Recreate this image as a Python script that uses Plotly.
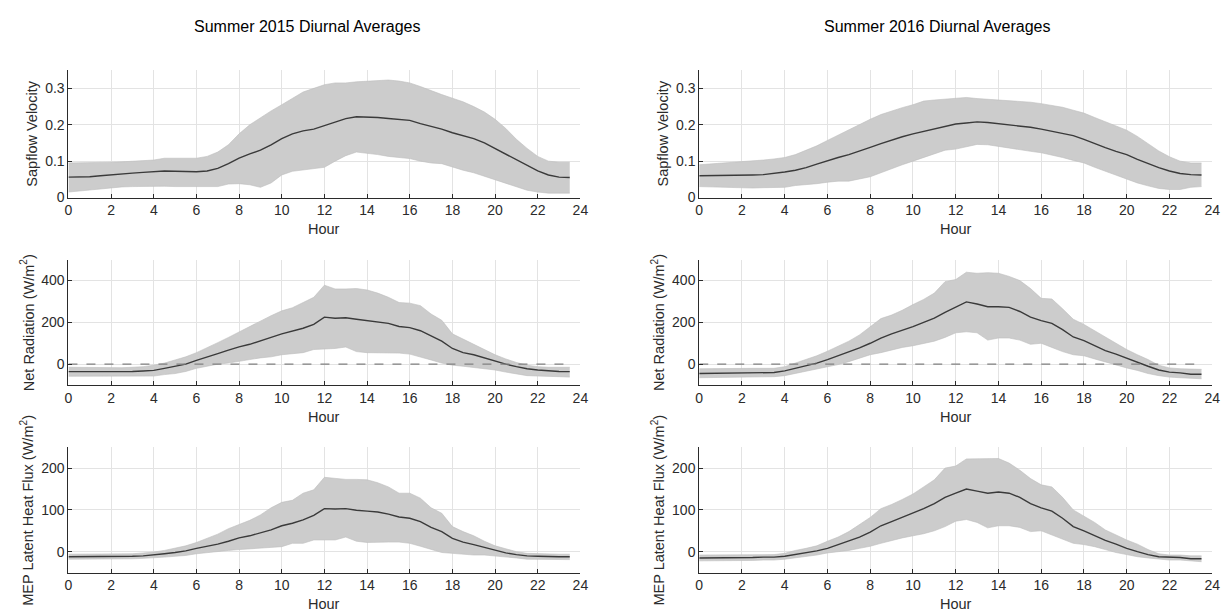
import plotly.graph_objects as go

hours = [0, 0.5, 1, 1.5, 2, 2.5, 3, 3.5, 4, 4.5, 5, 5.5, 6, 6.5, 7, 7.5, 8, 8.5, 9, 9.5,
         10, 10.5, 11, 11.5, 12, 12.5, 13, 13.5, 14, 14.5, 15, 15.5, 16, 16.5, 17, 17.5,
         18, 18.5, 19, 19.5, 20, 20.5, 21, 21.5, 22, 22.5, 23, 23.5]

column_titles = ["Summer 2015 Diurnal Averages", "Summer 2016 Diurnal Averages"]
row_labels = ["Sapflow Velocity", "Net Radiation (W/m<sup>2</sup>)",
              "MEP Latent Heat Flux (W/m<sup>2</sup>)"]
x_ticks = [0, 2, 4, 6, 8, 10, 12, 14, 16, 18, 20, 22, 24]
y_ticks = [[0, 0.1, 0.2, 0.3], [0, 200, 400], [0, 100, 200]]
y_ranges = [[0, 0.35], [-100, 500], [-50, 250]]

# --- 2015 Sapflow
sap15_mean = [0.056, 0.056, 0.057, 0.060, 0.063, 0.065, 0.067, 0.069, 0.071, 0.073, 0.072, 0.071,
              0.071, 0.073, 0.080, 0.093, 0.108, 0.120, 0.130, 0.145, 0.162, 0.175, 0.183, 0.188,
              0.197, 0.207, 0.217, 0.222, 0.222, 0.220, 0.217, 0.215, 0.212, 0.203, 0.196, 0.188,
              0.178, 0.170, 0.162, 0.150, 0.135, 0.120, 0.103, 0.088, 0.073, 0.062, 0.056, 0.055]
sap15_upper = [0.095, 0.095, 0.095, 0.096, 0.097, 0.098, 0.100, 0.101, 0.103, 0.108, 0.108, 0.108,
               0.108, 0.113, 0.125, 0.145, 0.175, 0.200, 0.220, 0.238, 0.255, 0.272, 0.290, 0.300,
               0.310, 0.315, 0.315, 0.318, 0.320, 0.323, 0.323, 0.320, 0.315, 0.305, 0.293, 0.283,
               0.273, 0.263, 0.250, 0.235, 0.215, 0.190, 0.160, 0.135, 0.113, 0.100, 0.097, 0.097]
sap15_lower = [0.015, 0.018, 0.020, 0.024, 0.028, 0.029, 0.030, 0.031, 0.032, 0.031, 0.030, 0.030,
               0.030, 0.030, 0.030, 0.037, 0.038, 0.035, 0.028, 0.040, 0.062, 0.072, 0.075, 0.078,
               0.083, 0.100, 0.115, 0.125, 0.122, 0.118, 0.113, 0.110, 0.107, 0.100, 0.095, 0.093,
               0.083, 0.075, 0.068, 0.058, 0.048, 0.038, 0.028, 0.020, 0.015, 0.012, 0.012, 0.012]

# --- 2016 Sapflow
sap16_mean = [0.060, 0.060, 0.060, 0.060, 0.061, 0.062, 0.063, 0.066, 0.070, 0.075, 0.082, 0.092,
              0.102, 0.110, 0.118, 0.127, 0.138, 0.148, 0.158, 0.167, 0.175, 0.182, 0.190, 0.197,
              0.202, 0.205, 0.208, 0.206, 0.203, 0.200, 0.196, 0.193, 0.188, 0.182, 0.176, 0.170,
              0.160, 0.148, 0.137, 0.127, 0.118, 0.105, 0.093, 0.082, 0.073, 0.066, 0.063, 0.062]
sap16_upper = [0.090, 0.092, 0.095, 0.098, 0.100, 0.101, 0.103, 0.106, 0.110, 0.118, 0.130, 0.142,
               0.157, 0.172, 0.187, 0.200, 0.215, 0.228, 0.238, 0.247, 0.255, 0.265, 0.268, 0.270,
               0.273, 0.275, 0.272, 0.270, 0.270, 0.268, 0.265, 0.262, 0.258, 0.253, 0.248, 0.240,
               0.232, 0.220, 0.208, 0.197, 0.185, 0.168, 0.148, 0.128, 0.112, 0.100, 0.095, 0.095]
sap16_lower = [0.030, 0.029, 0.027, 0.026, 0.025, 0.026, 0.027, 0.027, 0.028, 0.033, 0.035, 0.038,
               0.042, 0.045, 0.045, 0.050, 0.057, 0.068, 0.080, 0.090, 0.100, 0.110, 0.122, 0.130,
               0.133, 0.140, 0.146, 0.145, 0.140, 0.135, 0.130, 0.127, 0.123, 0.117, 0.110, 0.102,
               0.095, 0.083, 0.072, 0.060, 0.050, 0.040, 0.032, 0.025, 0.022, 0.022, 0.028, 0.030]

# --- 2015 Net Radiation
rn15_mean = [-36, -36, -36, -37, -37, -36, -35, -33, -30, -20, -10, 0, 18, 33, 50, 67, 83, 95,
             110, 128, 145, 158, 172, 190, 225, 220, 222, 215, 208, 202, 195, 180, 175, 160, 135,
             110, 75, 55, 45, 30, 12, 0, -12, -22, -28, -32, -35, -36]
rn15_upper = [-15, -16, -17, -18, -18, -17, -15, -12, -5, 5, 20, 35, 55, 78, 103, 128, 155, 178,
              205, 232, 255, 270, 295, 320, 378, 360, 360, 362, 355, 340, 320, 295, 292, 280, 240,
              210, 145, 120, 95, 70, 45, 25, 8, -5, -12, -15, -15, -15]
rn15_lower = [-58, -58, -58, -58, -58, -58, -57, -57, -57, -50, -45, -35, -20, -10, 0, 5, 15, 22,
              30, 35, 45, 50, 55, 70, 72, 75, 82, 60, 55, 55, 55, 53, 48, 35, 20, 5, -5, -10,
              -15, -20, -28, -38, -48, -55, -57, -60, -60, -62]

# --- 2016 Net Radiation
rn16_mean = [-45, -44, -43, -43, -42, -41, -40, -40, -32, -20, -8, 5, 22, 40, 58, 78, 100, 125,
             145, 162, 180, 200, 220, 248, 272, 298, 288, 275, 275, 272, 252, 225, 208, 195, 165,
             130, 113, 90, 65, 48, 28, 8, -10, -28, -38, -42, -48, -48]
rn16_upper = [-22, -21, -20, -20, -20, -20, -20, -20, -12, 5, 20, 40, 62, 85, 110, 140, 180, 218,
              235, 258, 285, 310, 340, 395, 405, 440, 435, 438, 435, 420, 400, 362, 315, 312, 265,
              215, 190, 160, 128, 100, 70, 45, 22, -5, -18, -22, -25, -25]
rn16_lower = [-65, -64, -63, -63, -62, -61, -60, -60, -55, -45, -35, -25, -12, -2, 12, 28, 45, 55,
              68, 80, 88, 98, 110, 128, 150, 155, 150, 115, 125, 125, 115, 95, 100, 80, 60, 45,
              40, 25, 10, -5, -18, -30, -45, -55, -62, -65, -68, -70]

# --- 2015 Latent Heat Flux
le15_mean = [-12, -12, -12, -12, -12, -12, -11, -10, -8, -5, -2, 2, 8, 13, 18, 25, 33, 38, 45,
             52, 62, 68, 76, 87, 103, 102, 103, 99, 97, 95, 90, 83, 80, 72, 58, 48, 32, 23, 17,
             10, 3, -3, -7, -10, -11, -12, -12, -12]
le15_upper = [-6, -6, -6, -6, -6, -6, -5, -3, -1, 3, 8, 14, 22, 32, 42, 55, 65, 75, 88, 105,
              118, 123, 140, 148, 178, 175, 173, 173, 172, 165, 155, 140, 140, 128, 105, 92, 60,
              48, 38, 25, 14, 7, 0, -4, -5, -6, -6, -6]
le15_lower = [-18, -18, -18, -18, -18, -18, -17, -16, -15, -13, -11, -9, -5, -2, 0, 3, 5, 7, 8,
              10, 12, 20, 20, 28, 28, 28, 35, 25, 22, 23, 23, 23, 20, 13, 5, -2, -4, -6, -8, -8,
              -10, -13, -15, -18, -18, -18, -18, -19]

# --- 2016 Latent Heat Flux
le16_mean = [-15, -15, -14, -14, -14, -14, -13, -13, -11, -7, -3, 2, 8, 17, 25, 35, 47, 62, 72,
             82, 92, 103, 115, 130, 140, 150, 145, 140, 143, 140, 130, 115, 105, 97, 80, 60, 50,
             38, 27, 18, 8, 0, -7, -12, -13, -14, -17, -17]
le16_upper = [-8, -8, -8, -8, -8, -8, -7, -7, -4, 3, 8, 14, 25, 35, 48, 65, 82, 103, 113, 125,
              138, 155, 172, 200, 205, 222, 222, 223, 223, 212, 195, 175, 160, 155, 130, 100, 85,
              70, 52, 40, 28, 18, 5, -5, -8, -8, -10, -10]
le16_lower = [-22, -22, -21, -21, -21, -21, -20, -20, -18, -15, -12, -8, -3, 0, 3, 8, 13, 20, 27,
              33, 38, 43, 50, 60, 73, 77, 70, 57, 62, 62, 58, 48, 50, 40, 30, 20, 17, 12, 5, -2,
              -7, -12, -15, -18, -20, -20, -22, -24]

panels = [
    [(sap15_mean, sap15_upper, sap15_lower), (sap16_mean, sap16_upper, sap16_lower)],
    [(rn15_mean, rn15_upper, rn15_lower), (rn16_mean, rn16_upper, rn16_lower)],
    [(le15_mean, le15_upper, le15_lower), (le16_mean, le16_upper, le16_lower)],
]

W, H = 1231, 616
col_px = [(57, 574), (694, 1212)]
row_px = [(63, 192), (255, 382), (445, 572)]
hour_px = [224, 414, 604]
ylab_px = [[20, 657], [16, 653], [15, 652]]
title_px = [298, 935]

FONT = "Liberation Sans, Arial, Helvetica, sans-serif"
AX = "#2b2b2b"
GRID = "#e3e3e3"
TICK_SIZE = 14
LABEL_SIZE = 14.5
TITLE_SIZE = 16

fig = go.Figure()
layout = dict(width=W, height=H, margin=dict(l=0, r=0, t=0, b=0),
              plot_bgcolor="white", paper_bgcolor="white", showlegend=False,
              font=dict(family=FONT, size=TICK_SIZE, color=AX))
annotations = []

k = 0
for r in range(3):
    for c in range(2):
        k += 1
        xa = "x" if k == 1 else f"x{k}"
        ya = "y" if k == 1 else f"y{k}"
        mean, upper, lower = panels[r][c]
        fig.add_trace(go.Scatter(x=hours, y=upper, mode="lines", line=dict(width=0.6, color="#bdbdbd"),
                                 hoverinfo="skip", xaxis=xa, yaxis=ya))
        fig.add_trace(go.Scatter(x=hours, y=lower, mode="lines", line=dict(width=0.6, color="#bdbdbd"),
                                 fill="tonexty", fillcolor="#cccccc", hoverinfo="skip",
                                 xaxis=xa, yaxis=ya))
        fig.add_trace(go.Scatter(x=hours, y=mean, mode="lines", line=dict(width=1.4, color="#3a3a3a"),
                                 xaxis=xa, yaxis=ya))
        if r == 1:
            fig.add_trace(go.Scatter(x=[hours[0], hours[-1]], y=[0, 0], mode="lines",
                                     line=dict(width=1.4, color="#808080", dash="dash"),
                                     xaxis=xa, yaxis=ya))
        x0, x1 = col_px[c]
        y0, y1 = row_px[r]
        axkey = "xaxis" if k == 1 else f"xaxis{k}"
        aykey = "yaxis" if k == 1 else f"yaxis{k}"
        layout[axkey] = dict(domain=[x0 / W, x1 / W], anchor=ya, range=[0, 24],
                             tickvals=x_ticks, ticks="inside", ticklen=4, tickcolor=AX,
                             showline=True, linecolor=AX, linewidth=1, mirror=False,
                             showgrid=True, gridcolor=GRID, gridwidth=1, zeroline=False,
                             tickfont=dict(size=TICK_SIZE, color=AX, family=FONT))
        layout[aykey] = dict(domain=[1 - y1 / H, 1 - y0 / H], anchor=xa, range=y_ranges[r],
                             tickvals=y_ticks[r], ticks="inside", ticklen=4, tickcolor=AX,
                             showline=True, linecolor=AX, linewidth=1, mirror=False,
                             showgrid=True, gridcolor=GRID, gridwidth=1, zeroline=False,
                             tickfont=dict(size=TICK_SIZE, color=AX, family=FONT))
        annotations.append(dict(text="Hour", x=(x0 + x1) / 2 / W, y=1 - hour_px[r] / H,
                                xref="paper", yref="paper", xanchor="center", yanchor="middle",
                                showarrow=False, font=dict(size=LABEL_SIZE, color=AX, family=FONT)))
        annotations.append(dict(text=row_labels[r], x=ylab_px[r][c] / W, y=1 - (y0 + y1) / 2 / H,
                                xref="paper", yref="paper", xanchor="center", yanchor="middle",
                                textangle=-90, showarrow=False,
                                font=dict(size=LABEL_SIZE, color=AX, family=FONT)))
        if r == 0:
            annotations.append(dict(text=column_titles[c], x=title_px[c] / W, y=1 - 19 / H,
                                    xref="paper", yref="paper", xanchor="center", yanchor="middle",
                                    showarrow=False, font=dict(size=TITLE_SIZE, color="#000000", family=FONT)))

layout["annotations"] = annotations
fig.update_layout(**layout)
fig.write_html("out.html")
